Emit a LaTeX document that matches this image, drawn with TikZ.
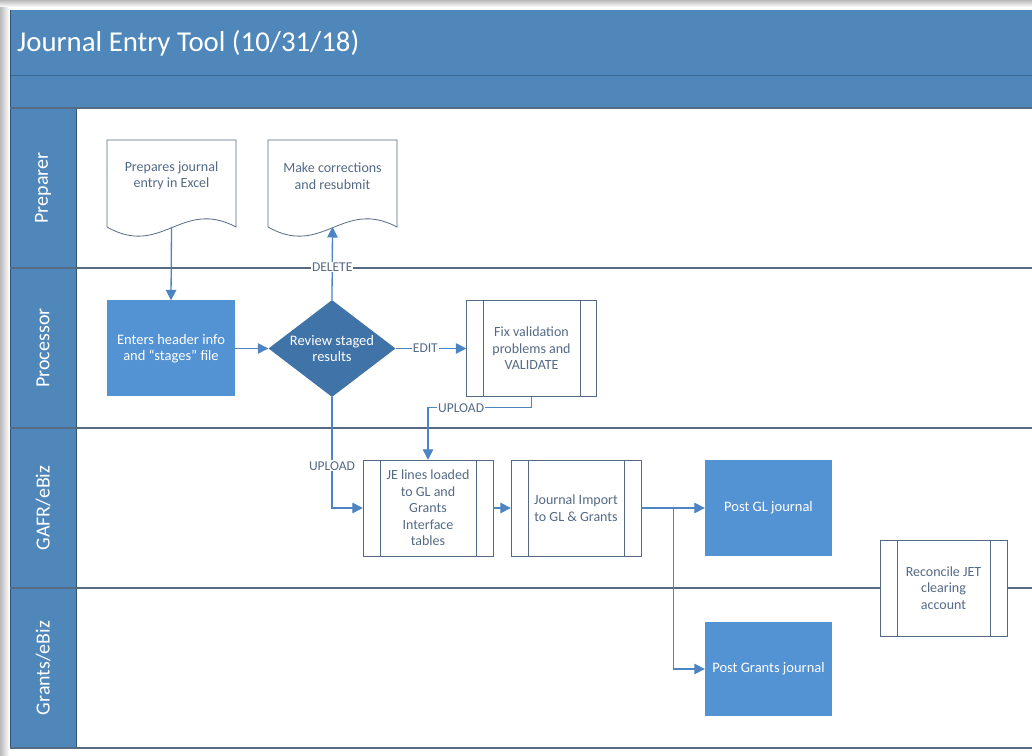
\documentclass[tikz,border=0pt]{standalone}
\usepackage{fontspec}
\setmainfont{Carlito}
\usetikzlibrary{arrows,arrows.meta,shapes}
\usetikzlibrary{positioning,fit}
\definecolor{hdrblue}{RGB}{79,135,187}
\definecolor{hdrline}{RGB}{60,104,148}
\definecolor{boxblue}{RGB}{84,147,211}
\definecolor{decblue}{RGB}{64,115,168}
\definecolor{linkblue}{RGB}{76,132,196}
\definecolor{laneline}{RGB}{86,106,132}
\definecolor{slate}{RGB}{84,106,133}
\tikzstyle{task} = [draw=none, fill=boxblue, text=white, minimum width=128pt,
    minimum height=96pt, align=center, font=\fontsize{14.5}{16.5}\selectfont]
\tikzstyle{decision} = [diamond, fill=decblue, text=white, aspect=1.3, inner sep=0pt,
    minimum width=127pt, minimum height=97pt, align=center, font=\fontsize{14.5}{16.5}\selectfont]
\tikzstyle{subproc} = [draw=slate, fill=white, text=slate, minimum width=130pt,
    minimum height=96pt, align=center, font=\fontsize{14}{16.5}\selectfont]
\tikzstyle{docu} = [text=slate, align=center, font=\fontsize{14}{16.5}\selectfont]
\tikzstyle{lanelabel} = [text=white, rotate=90, font=\fontsize{20}{24}\selectfont]
\tikzstyle{link} = [draw=linkblue, line width=1.3pt, -{Triangle[length=10.5pt,width=10.5pt]}]
\tikzstyle{tag} = [fill=white, text=slate, inner sep=1pt, font=\fontsize{13.5}{15}\selectfont]
% side bars of a subprocess box
\newcommand{\subbars}[1]{\draw[slate] ([xshift=17pt]#1.north west) -- ([xshift=17pt]#1.south west)
    ([xshift=-17pt]#1.north east) -- ([xshift=-17pt]#1.south east);}
% wavy document outline round a text node
\newcommand{\docoutline}[1]{\draw[slate, line width=0.8pt] ([shift={(-64.5,-51)}]#1.center) -- ([shift={(-64.5,36)}]#1.center)
    -- ([shift={(64.5,36)}]#1.center) -- ([shift={(64.5,-51)}]#1.center)
    .. controls ([shift={(10,-22)}]#1.center) and ([shift={(-10,-82)}]#1.center) .. ([shift={(-64.5,-51)}]#1.center);}
\begin{document}
\begin{tikzpicture}[x=1pt, y=1pt]
  \useasboundingbox (0,0) rectangle (1032,755);
  % frame and shadow
  \fill[white] (0,0) rectangle (1032,755);
  \shade[left color=gray!55, right color=white] (0,0) rectangle (9,755);
  \shade[top color=gray!55, bottom color=white] (0,748) rectangle (1032,755);
  \fill[hdrblue] (10,647) rectangle (1032,745);
  \fill[hdrblue] (10,7) rectangle (76,647);
  \draw[hdrline, line width=1pt] (10,679) -- (1032,679);
  \draw[hdrline!80!black, line width=0.8pt] (76,7) -- (76,647);
  \draw[hdrline!80!black, line width=0.8pt] (10,7) -- (10,745);
  \node[anchor=west, inner sep=0pt, text=white, font=\fontsize{28.8}{34}\selectfont] (title) at (17,712) {Journal Entry Tool (10/31/18)};
  % lanes
  \foreach \y in {647,487,327,167,7}
    \draw[laneline, line width=1.5pt] (10,\y) -- (1032,\y);
  \node[lanelabel] (lpre) at (43,567) {Preparer};
  \node[lanelabel] (lproc) at (43,407) {Processor};
  \node[lanelabel] (lgafr) at (43,247) {GAFR/eBiz};
  \node[lanelabel] (lgrant) at (43,87) {Grants/eBiz};
  % Place nodes
  \node [docu] (prepdoc) at (171.5,579) {Prepares journal\\entry in Excel};
  \node [docu, right of=prepdoc, node distance=161pt] (corrdoc) {Make corrections\\and resubmit};
  \docoutline{prepdoc}
  \docoutline{corrdoc}
  \coordinate (prepbot) at ([yshift=-51pt]prepdoc.center);
  \coordinate (corrbot) at ([yshift=-51pt]corrdoc.center);
  \node [task] (enter) at (171,406.5) {Enters header info\\and ``stages'' file};
  \node [decision, right of=enter, node distance=161pt] (review) {Review staged\\results};
  \node [subproc, right of=review, node distance=199.5pt] (fix) {Fix validation\\problems and\\VALIDATE};
  \node [subproc] (je) at (428,247) {JE lines loaded\\to GL and\\Grants\\Interface\\tables};
  \node [subproc, right of=je, node distance=148pt] (import) {Journal Import\\to GL \& Grants};
  \node [task, minimum width=127pt, right of=import, node distance=192.5pt] (postgl) {Post GL journal};
  \node [task, minimum width=127pt, minimum height=94pt, below of=postgl, node distance=161pt] (postgr) {Post Grants journal};
  \node [subproc, minimum width=127pt] (reconcile) at (943.5,167) {Reconcile JET\\clearing\\account};
  \subbars{fix}
  \subbars{je}
  \subbars{import}
  \subbars{reconcile}
  % connectors
  \draw[link] (prepbot) -- (enter.north);
  \draw[link] (enter.east) -- (review.west);
  \draw[link] (review.north) -- node[tag, pos=0.45] {DELETE} (corrbot);
  \draw[link] (review.east) -- node[tag, pos=0.42] {EDIT} (fix.west);
  \draw[link] (fix.south) -- ++(0,-11) -| node[tag, pos=0.34] {UPLOAD} (je.north);
  \draw[link] (review.south) |- node[tag, pos=0.31] {UPLOAD} (je.west);
  \draw[link] (je.east) -- (import.west);
  \draw[link] (import.east) -- (postgl.west);
  \draw[link] (import.east) -- ++(32,0) |- (postgr.west);
\end{tikzpicture}
\end{document}
